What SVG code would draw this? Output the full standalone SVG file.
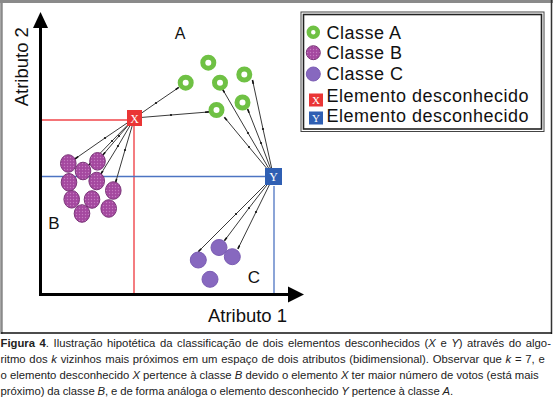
<svg xmlns="http://www.w3.org/2000/svg" width="553" height="401" viewBox="0 0 553 401">
<style>
text{font-family:"Liberation Sans",Arial,sans-serif;fill:#111}
.lbl{font-size:18.5px}
.leg{font-size:18px;letter-spacing:0.5px}
.cap{font-size:11.3px;fill:#222}
.conn{fill:none;stroke:#3a3a3a;stroke-width:1;marker-mid:url(#dot);marker-end:url(#dash)}
.ringA{fill:#fff;stroke:#6fc144;stroke-width:5}
.ptB{fill:url(#dots);stroke:#7a3478;stroke-width:1}
.ptC{fill:#8768bf;stroke:#7a5cb3;stroke-width:1}
</style>
<defs>
<pattern id="dots" width="3" height="3" patternUnits="userSpaceOnUse">
<rect width="3" height="3" fill="#a4489f"/>
<circle cx="1.5" cy="1.5" r="0.7" fill="#c47ac0"/>
</pattern>
<marker id="dot" markerWidth="4" markerHeight="4" refX="2" refY="2" markerUnits="userSpaceOnUse">
<circle cx="2" cy="2" r="1.1" fill="#111"/>
</marker>
<marker id="dash" markerWidth="6" markerHeight="4" refX="3" refY="2" orient="auto" markerUnits="userSpaceOnUse">
<rect x="0" y="1.2" width="4" height="1.6" fill="#111"/>
</marker>
</defs>
<rect width="553" height="401" fill="#fff"/>
<g id="frame">
<line x1="0" y1="1.5" x2="553" y2="1.5" stroke="#8a8a8a" stroke-width="3"/>
<line x1="1.5" y1="0" x2="1.5" y2="334" stroke="#8a8a8a" stroke-width="2.5"/>
<line x1="551.5" y1="0" x2="551.5" y2="334" stroke="#333" stroke-width="1.5"/>
<line x1="1" y1="333" x2="552" y2="333" stroke="#111" stroke-width="1.6"/>
</g>
<g id="guides">
<line x1="40" y1="120" x2="127" y2="120" stroke="#f0464a" stroke-width="1.4"/>
<line x1="134" y1="126" x2="134" y2="294" stroke="#f0464a" stroke-width="1.4"/>
<line x1="40" y1="176.5" x2="265" y2="176.5" stroke="#4d74c2" stroke-width="1.3"/>
<line x1="274" y1="186" x2="274" y2="294" stroke="#4d74c2" stroke-width="1.3"/>
</g>
<g id="axes">
<line x1="40.5" y1="26" x2="40.5" y2="295.5" stroke="#000" stroke-width="3"/>
<polygon points="40.5,12 33,28 48,28" fill="#000"/>
<line x1="39" y1="294.5" x2="290" y2="294.5" stroke="#000" stroke-width="3"/>
<polygon points="304,294.5 288,286.5 288,302.5" fill="#000"/>
<text class="lbl" transform="translate(28,66.7) rotate(-90)" text-anchor="middle">Atributo 2</text>
<text class="lbl" x="247.5" y="322" text-anchor="middle">Atributo 1</text>
<text x="180" y="38.5" text-anchor="middle" style="font-size:16px">A</text>
<text x="54" y="229" text-anchor="middle" style="font-size:17px">B</text>
<text x="254" y="283" text-anchor="middle" style="font-size:17px">C</text>
</g>
<g id="connectors">
<polyline class="conn" points="134.5,118 156,103 178,88"/>
<polyline class="conn" points="134.5,118 171,115 208,112"/>
<polyline class="conn" points="134.5,118 105,138 75.7,158.4"/>
<polyline class="conn" points="134.5,118 112,141 89.3,164.5"/>
<polyline class="conn" points="134.5,118 119,136 103.3,154.5"/>
<polyline class="conn" points="134.5,118 118,146 101.3,173.3"/>
<polyline class="conn" points="134.5,118 125,150 115.8,181.7"/>
<polyline class="conn" points="273.5,176.5 248,133 223,90"/>
<polyline class="conn" points="273.5,176.5 263,129 252.7,81"/>
<polyline class="conn" points="273.5,176.5 261,143 248,110"/>
<polyline class="conn" points="273.5,176.5 249,147 225,118"/>
<polyline class="conn" points="273.5,176.5 236,214 199,251"/>
<polyline class="conn" points="273.5,176.5 249,208 225,240"/>
<polyline class="conn" points="273.5,176.5 256,212 238.3,248"/>
</g>
<g id="classA">
<circle class="ringA" cx="208.3" cy="62.7" r="5.5"/>
<circle class="ringA" cx="185.7" cy="82.7" r="5.5"/>
<circle class="ringA" cx="220" cy="82.7" r="5.5"/>
<circle class="ringA" cx="244.3" cy="74.5" r="5.5"/>
<circle class="ringA" cx="242.5" cy="102.5" r="5.5"/>
<circle class="ringA" cx="216.5" cy="110" r="5.5"/>
</g>
<g id="classB">
<ellipse class="ptB" cx="68.3" cy="163.5" rx="7.8" ry="8.8"/>
<ellipse class="ptB" cx="83" cy="171" rx="7.8" ry="8.8"/>
<ellipse class="ptB" cx="97.5" cy="161.3" rx="7.8" ry="8.8"/>
<ellipse class="ptB" cx="69" cy="182.3" rx="7.8" ry="8.8"/>
<ellipse class="ptB" cx="96.7" cy="181" rx="7.8" ry="8.8"/>
<ellipse class="ptB" cx="113.3" cy="190.5" rx="7.8" ry="8.8"/>
<ellipse class="ptB" cx="71.7" cy="199.3" rx="7.8" ry="8.8"/>
<ellipse class="ptB" cx="92" cy="199.5" rx="7.8" ry="8.8"/>
<ellipse class="ptB" cx="82" cy="213.5" rx="7.8" ry="8.8"/>
<ellipse class="ptB" cx="108.7" cy="208.5" rx="7.8" ry="8.8"/>
</g>
<g id="classC">
<circle class="ptC" cx="198.3" cy="260" r="8"/>
<circle class="ptC" cx="219" cy="247.5" r="8"/>
<circle class="ptC" cx="232.3" cy="256.7" r="8"/>
<circle class="ptC" cx="210" cy="279.3" r="8"/>
</g>
<g id="nodeX">
<rect x="127" y="110" width="15" height="16" fill="#ea3535"/>
<text x="134.5" y="122.5" text-anchor="middle" style="font-family:'Liberation Serif',serif;font-size:12px;fill:#fff">X</text>
</g>
<g id="nodeY">
<rect x="265" y="168" width="17" height="17" fill="#2f5fb3"/>
<text x="273.5" y="181" text-anchor="middle" style="font-family:'Liberation Serif',serif;font-size:12px;fill:#fff">Y</text>
</g>
<g id="legend">
<rect x="301" y="12" width="243" height="119.5" fill="#fff" stroke="#444" stroke-width="1"/>
<rect x="303.5" y="14.5" width="238" height="114.5" fill="none" stroke="#222" stroke-width="1.6"/>
<circle class="ringA" cx="313.3" cy="32.3" r="4.5" style="stroke-width:4.5"/>
<text class="leg" x="326.5" y="38.5">Classe A</text>
<circle class="ptB" cx="313.3" cy="52.7" r="7"/>
<text class="leg" x="326.5" y="59">Classe B</text>
<circle class="ptC" cx="313.3" cy="74" r="7"/>
<text class="leg" x="326.5" y="80">Classe C</text>
<rect x="309" y="93.5" width="14" height="13" fill="#ea3535"/>
<text x="316" y="104" text-anchor="middle" style="font-family:'Liberation Serif',serif;font-size:11px;fill:#fff">X</text>
<text class="leg" x="326.5" y="101.5">Elemento desconhecido</text>
<rect x="309" y="111.5" width="14" height="13" fill="#2f5fb3"/>
<text x="316" y="122" text-anchor="middle" style="font-family:'Liberation Serif',serif;font-size:11px;fill:#fff">Y</text>
<text class="leg" x="326.5" y="122">Elemento desconhecido</text>
</g>
<g id="caption">
<text class="cap" x="0.5" y="347" style="word-spacing:1.4px"><tspan font-weight="bold">Figura 4</tspan>. Ilustração hipotética da classificação de dois elementos desconhecidos (<tspan font-style="italic">X</tspan> e <tspan font-style="italic">Y</tspan>) através do algo-</text>
<text class="cap" x="0.5" y="363" style="word-spacing:0.6px">ritmo dos <tspan font-style="italic">k</tspan> vizinhos mais próximos em um espaço de dois atributos (bidimensional). Observar que <tspan font-style="italic">k</tspan> = 7, e</text>
<text class="cap" x="0.5" y="379">o elemento desconhecido <tspan font-style="italic">X</tspan> pertence à classe <tspan font-style="italic">B</tspan> devido o elemento <tspan font-style="italic">X</tspan> ter maior número de votos (está mais</text>
<text class="cap" x="0.5" y="395" style="word-spacing:-0.3px">próximo) da classe <tspan font-style="italic">B</tspan>, e de forma análoga o elemento desconhecido <tspan font-style="italic">Y</tspan> pertence à classe <tspan font-style="italic">A</tspan>.</text>
</g>
</svg>
